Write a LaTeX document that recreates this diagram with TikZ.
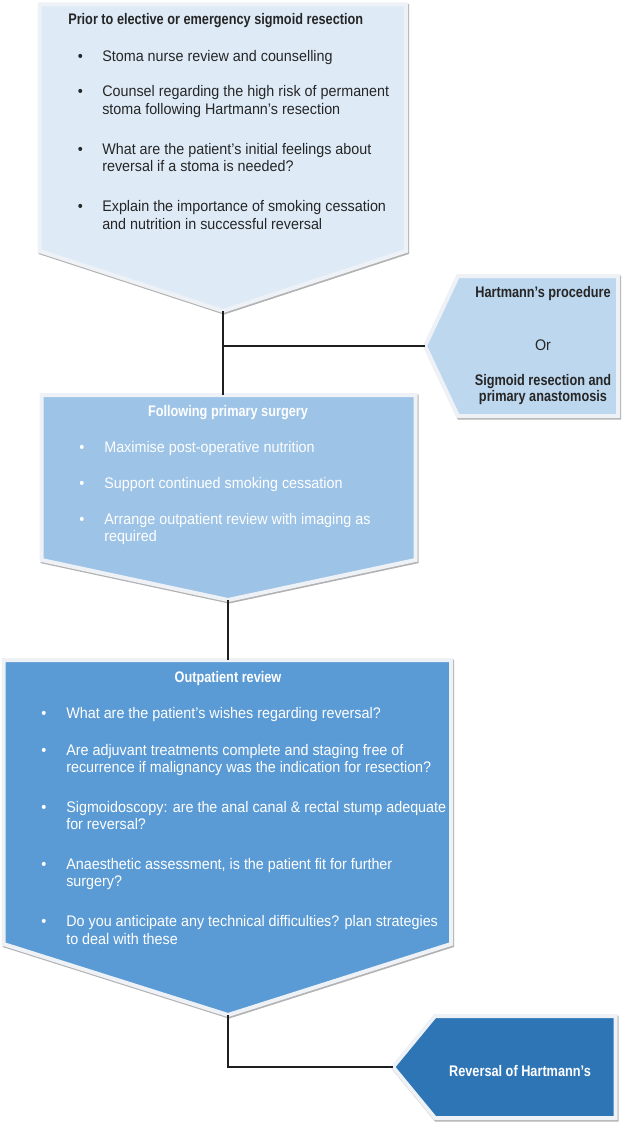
\documentclass[tikz,border=0pt]{standalone}
\usepackage{fontspec}
\setmainfont{Liberation Sans}[FakeStretch=0.935]
\newfontfamily\headfont{Liberation Sans}[FakeStretch=0.83]
\usepackage{xcolor}
\definecolor{paleblue}{HTML}{DEEBF7}
\definecolor{lightblue}{HTML}{BDD7EE}
\definecolor{midblue}{HTML}{9DC3E6}
\definecolor{deepblue}{HTML}{5B9BD5}
\definecolor{darkblue}{HTML}{2E75B6}
\definecolor{rimgrey}{HTML}{EEF2F7}
\definecolor{inkgrey}{HTML}{262626}

\begin{document}
\begin{tikzpicture}[x=0.75pt,y=-0.75pt,
  stagebox/.style={draw=rimgrey, line width=3pt, line join=miter},
  stageshadow/.style={draw=black!30, line width=3pt, line join=miter, shift={(1,1.5)}},
  link/.style={draw=black!88, line width=1.1pt},
  head/.style={font=\headfont\bfseries\fontsize{11.5}{13}\selectfont, inner sep=0pt, anchor=base},
  body/.style={font=\fontsize{11.5}{13}\selectfont, inner sep=0pt, anchor=base west}]

\useasboundingbox (0,0) rectangle (623,1124);

\path[stageshadow] (39.5,4.5) -- (406,4.5) -- (406,251) -- (223,311) -- (39.5,251) -- cycle;
\path[stagebox, fill=paleblue] (39.5,4.5) -- (406,4.5) -- (406,251) -- (223,311) coordinate (prior tip) -- (39.5,251) -- cycle;

\path[stageshadow] (425,346) -- (458,276) -- (618,276) -- (618,416) -- (458,416) -- cycle;
\path[stagebox, fill=lightblue] (425,346) coordinate (choice tip) -- (458,276) -- (618,276) -- (618,416) -- (458,416) -- cycle;

\path[stageshadow] (41.5,395) -- (415.5,395) -- (415.5,560) -- (228,600) -- (41.5,560) -- cycle;
\path[stagebox, fill=midblue] (41.5,395) -- (228,395) coordinate (follow top) -- (415.5,395) -- (415.5,560) -- (228,600) coordinate (follow tip) -- (41.5,560) -- cycle;

\path[stageshadow] (3.5,660) -- (451,660) -- (451,944) -- (228,1015) -- (3.5,944) -- cycle;
\path[stagebox, fill=deepblue] (3.5,660) -- (228,660) coordinate (review top) -- (451,660) -- (451,944) -- (228,1015) coordinate (review tip) -- (3.5,944) -- cycle;

\path[stageshadow] (393,1067) -- (435,1016) -- (615.5,1016) -- (615.5,1118) -- (435,1118) -- cycle;
\path[stagebox, fill=darkblue] (393,1067) coordinate (reversal tip) -- (435,1016) -- (615.5,1016) -- (615.5,1118) -- (435,1118) -- cycle;

\draw[link] (prior tip) -- (prior tip |- follow top);
\draw[link] (choice tip) -- (choice tip -| prior tip);
\draw[link] (follow tip) -- (review top);
\draw[link] (review tip) |- (reversal tip);

\node[head, anchor=base west, text=inkgrey] (prior title) at (68,24.5) {Prior to elective or emergency sigmoid resection};
\node[body, text=inkgrey] (prior 1) at (77.5,61.5) {\makebox[18.4pt][l]{•}Stoma nurse review and counselling};
\node[body, text=inkgrey] (prior 2a) at (77.5,96.7) {\makebox[18.4pt][l]{•}Counsel regarding the high risk of permanent};
\node[body, text=inkgrey] (prior 2b) at (102,114.3) {stoma following Hartmann’s resection};
\node[body, text=inkgrey] (prior 3a) at (77.5,154) {\makebox[18.4pt][l]{•}What are the patient’s initial feelings about};
\node[body, text=inkgrey] (prior 3b) at (102,171.7) {reversal if a stoma is needed?};
\node[body, text=inkgrey] (prior 4a) at (77.5,211.7) {\makebox[18.4pt][l]{•}Explain the importance of smoking cessation};
\node[body, text=inkgrey] (prior 4b) at (102,229.3) {and nutrition in successful reversal};

\node[head, text=inkgrey] (choice 1) at (543,297.3) {Hartmann’s procedure};
\node[body, anchor=base, text=inkgrey] (choice 2) at (543,350) {Or};
\node[head, text=inkgrey] (choice 3a) at (543,385) {Sigmoid resection and};
\node[head, text=inkgrey] (choice 3b) at (543,401.5) {primary anastomosis};

\node[head, text=white] (follow title) at (228,416.7) {Following primary surgery};
\node[body, text=white] (follow 1) at (79,452.7) {\makebox[18.8pt][l]{•}Maximise post-operative nutrition};
\node[body, text=white] (follow 2) at (79,488.7) {\makebox[18.8pt][l]{•}Support continued smoking cessation};
\node[body, text=white] (follow 3a) at (79,524.3) {\makebox[18.8pt][l]{•}Arrange outpatient review with imaging as};
\node[body, text=white] (follow 3b) at (104,541.7) {required};

\node[head, text=white] (review title) at (228,682.3) {Outpatient review};
\node[body, text=white] (review 1) at (41,718.3) {\makebox[18.8pt][l]{•}What are the patient’s wishes regarding reversal?};
\node[body, text=white] (review 2a) at (41,755) {\makebox[18.8pt][l]{•}Are adjuvant treatments complete and staging free of};
\node[body, text=white] (review 2b) at (66,772.3) {recurrence if malignancy was the indication for resection?};
\node[body, text=white] (review 3a) at (41,812.3) {\makebox[18.8pt][l]{•}Sigmoidoscopy: are the anal canal \& rectal stump adequate};
\node[body, text=white] (review 3b) at (66,829.3) {for reversal?};
\node[body, text=white] (review 4a) at (41,869.3) {\makebox[18.8pt][l]{•}Anaesthetic assessment, is the patient fit for further};
\node[body, text=white] (review 4b) at (66,886.7) {surgery?};
\node[body, text=white] (review 5a) at (41,926.7) {\makebox[18.8pt][l]{•}Do you anticipate any technical difficulties? plan strategies};
\node[body, text=white] (review 5b) at (66,944) {to deal with these};

\node[head, text=white] (reversal text) at (520,1076) {Reversal of Hartmann’s};

\end{tikzpicture}
\end{document}
